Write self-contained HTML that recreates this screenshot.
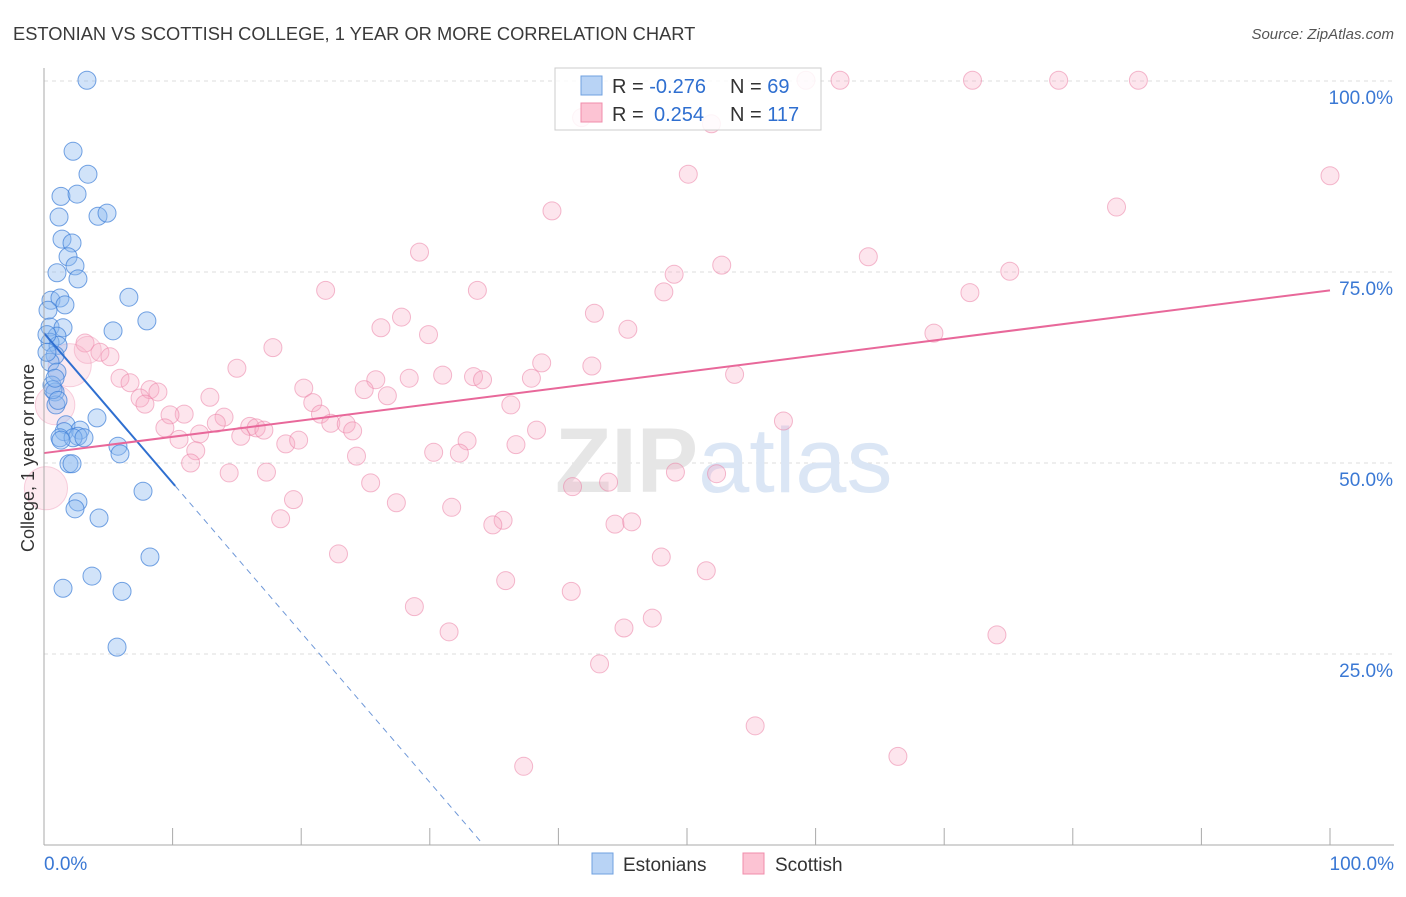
<!DOCTYPE html>
<html><head><meta charset="utf-8"><style>
body{margin:0;background:#fff;font-family:"Liberation Sans",sans-serif}
svg text{font-family:"Liberation Sans",sans-serif}
</style></head><body>
<svg id="chart" width="1406" height="892" viewBox="0 0 1406 892" xmlns="http://www.w3.org/2000/svg">
<text x="13" y="40" font-size="18.3" fill="#3a3a3a">ESTONIAN VS SCOTTISH COLLEGE, 1 YEAR OR MORE CORRELATION CHART</text>
<text x="1394" y="39" font-size="15" fill="#555" text-anchor="end" font-style="italic">Source: ZipAtlas.com</text>
<g id="grid"></g>
<text x="555" y="492" font-size="92" fill="#e6e6e6" font-family="Liberation Serif" font-weight="bold">ZIP<tspan fill="#dbe6f5" font-family="Liberation Sans" font-weight="normal">atlas</tspan></text>
<g id="pts"></g>
<g id="lines"></g>
<g id="axes"></g>
<text transform="translate(34,458) rotate(-90)" font-size="18" fill="#333" text-anchor="middle">College, 1 year or more</text>
<g>
<rect x="555" y="68" width="266" height="62" fill="rgba(255,255,255,0.85)" stroke="#ccc"/>
<rect x="581" y="76" width="21" height="19" fill="#b8d3f5" stroke="#6fa0e0"/>
<rect x="581" y="103" width="21" height="19" fill="#fcc3d3" stroke="#f08cab"/>
<text x="612" y="93" font-size="20" fill="#333">R = <tspan fill="#2f6fd0">-0.276</tspan><tspan x="730">N = </tspan><tspan fill="#2f6fd0">69</tspan></text>
<text x="612" y="121" font-size="20" fill="#333">R = <tspan fill="#2f6fd0" x="654">0.254</tspan><tspan x="730">N = </tspan><tspan fill="#2f6fd0">117</tspan></text>
</g>
<g>
<rect x="592" y="853" width="21" height="21" fill="#b8d3f5" stroke="#6fa0e0"/>
<text x="623" y="871" font-size="19" fill="#333">Estonians</text>
<rect x="743" y="853" width="21" height="21" fill="#fcc3d3" stroke="#f08cab"/>
<text x="775" y="871" font-size="19" fill="#333">Scottish</text>
</g>
</svg>
<script>
const yTicks=[0,25,50,75,100];
const yTickLabels=["","25.0%","50.0%","75.0%","100.0%"];
const xTickLabels=["0.0%","100.0%"];
const estX=[3.34,2.26,3.42,1.32,2.57,1.17,4.2,4.9,1.4,2.18,1.87,2.41,1.01,2.64,6.6,0.54,1.24,1.63,0.31,5.37,8.0,0.47,1.48,1.01,0.47,1.09,0.86,0.47,1.01,0.62,0.86,0.93,4.12,1.71,2.8,1.56,2.64,1.24,2.26,3.11,5.75,5.91,1.94,2.18,7.7,2.64,2.41,4.28,8.24,3.73,1.48,6.07,5.68,0.23,0.23,0.7,1.09,1.32,0.86];
const estY=[100.1,90.8,87.8,84.9,85.2,82.2,82.3,82.7,79.3,78.8,77.0,75.8,74.9,74.1,71.7,71.3,71.6,70.7,70.0,67.3,68.6,67.8,67.7,66.6,65.8,65.4,64.1,63.2,61.9,60.2,59.3,57.6,55.9,55.0,54.3,54.1,53.5,53.3,53.3,53.3,52.2,51.2,49.9,49.9,46.3,44.9,44.0,42.8,37.7,35.2,33.6,33.2,25.9,66.8,64.5,59.6,58.2,53.0,61.1];
const scoX=[59.25,61.9,72.2,78.9,85.1,41.8,51.9,100,50.1,83.4,39.5,29.2,64.1,49.0,52.7,75.1,21.9,33.7,48.2,72.0,42.8,27.8,26.2,29.9,45.4,69.2,17.8,3.19,4.35,5.13,15.0,38.7,42.6,53.7,5.91,6.69,28.4,31.0,33.4,34.1,37.9,25.8,24.9,20.2,8.24,8.86,12.9,26.7,7.47,7.85,20.9,36.3,10.9,9.8,14.0,21.5,13.4,16.0,16.5,17.1,22.3,23.5,24.0,9.4,12.1,15.3,10.5,18.8,19.8,32.9,57.5,38.3,36.7,30.3,32.3,24.3,11.8,11.4,14.4,17.3,49.1,52.3,25.4,41.1,43.9,19.4,27.4,31.7,18.4,35.7,34.9,44.4,45.7,22.9,48.0,51.5,35.9,41.0,28.8,47.3,31.5,45.1,74.1,43.2,55.3,66.4,37.3,2.0,0.86,0.15,3.4];
const scoY=[100.1,100.1,100.1,100.1,100.1,95.2,94.4,87.6,87.8,83.5,83.0,77.6,77.0,74.7,75.9,75.1,72.6,72.6,72.4,72.3,69.6,69.1,67.7,66.8,67.5,67.0,65.1,65.7,64.5,63.9,62.4,63.1,62.7,61.6,61.1,60.5,61.1,61.5,61.3,60.9,61.1,60.9,59.6,59.8,59.6,59.3,58.6,58.8,58.5,57.7,57.9,57.6,56.4,56.3,56.0,56.4,55.2,54.8,54.6,54.3,55.2,55.1,54.2,54.6,53.8,53.5,53.1,52.5,53.0,52.9,55.5,54.3,52.4,51.4,51.3,50.9,51.6,50.0,48.7,48.8,48.8,48.6,47.4,46.9,47.5,45.2,44.8,44.2,42.7,42.5,41.9,42.0,42.3,38.1,37.7,35.9,34.6,33.2,31.2,29.7,27.9,28.4,27.5,23.7,15.6,11.6,10.3,62.8,57.6,46.7,64.8];
const scoSize=scoX.map((v,i)=>i>=scoX.length-4?[2.4,2.2,2.4,1.5][i-(scoX.length-4)]:1);
const estLine=[67.0,-1.96]; // intercept, slope
const scoLine=[51.3,72.6];
const X=v=>44+v*12.86, Y=v=>845-v*7.64;
const NS="http://www.w3.org/2000/svg";
function mk(p,t,a){const e=document.createElementNS(NS,t);for(const k in a)e.setAttribute(k,a[k]);p.appendChild(e);return e;}
const grid=document.getElementById('grid'),axes=document.getElementById('axes'),pts=document.getElementById('pts'),lines=document.getElementById('lines');
yTicks.forEach((t,i)=>{if(t>0){const l=mk(grid,'line',{x1:44,x2:1394,y1:Y(t),y2:Y(t),stroke:'#ddd','stroke-dasharray':'4,4'});


const tx=mk(axes,'text',{x:1393,y:Y(t)+23,'font-size':19,fill:'#3a78d4','text-anchor':'end'});tx.textContent=yTickLabels[i];

}});
mk(axes,'line',{x1:44,x2:44,y1:68,y2:845,stroke:'#aaa'});
mk(axes,'line',{x1:44,x2:1394,y1:845,y2:845,stroke:'#aaa'});
for(let i=1;i<=10;i++){mk(axes,'line',{x1:X(i*10),x2:X(i*10),y1:828,y2:845,stroke:'#aaa'});}
[[0,'start',44],[100,'end',1394]].forEach((d,i)=>{const t=mk(axes,'text',{x:d[2],y:870,'font-size':19,fill:'#3a78d4','text-anchor':d[1]});t.textContent=xTickLabels[i];

});
scoX.forEach((x,i)=>{const big=scoSize[i]>1;const c=mk(pts,'circle',{cx:X(x),cy:Y(scoY[i]),r:9*scoSize[i],fill:big?'rgba(248,170,195,0.25)':'rgba(248,170,195,0.3)',stroke:big?'rgba(235,130,165,0.35)':'rgba(235,130,165,0.55)','stroke-width':1});

});
estX.forEach((x,i)=>{const c=mk(pts,'circle',{cx:X(x),cy:Y(estY[i]),r:9,fill:'rgba(140,185,240,0.4)',stroke:'rgba(60,125,215,0.7)','stroke-width':1});

});
const ey=x=>estLine[0]+estLine[1]*x, x0=-estLine[0]/estLine[1];
const l1=mk(lines,'line',{x1:X(0),y1:Y(ey(0)),x2:X(10.2),y2:Y(ey(10.2)),stroke:'#2f6fd0','stroke-width':2});


const l2=mk(lines,'line',{x1:X(10.2),y1:Y(ey(10.2)),x2:X(x0),y2:Y(0),stroke:'#6f98d8','stroke-width':1,'stroke-dasharray':'6,5'});


const l3=mk(lines,'line',{x1:X(0),y1:Y(scoLine[0]),x2:X(100),y2:Y(scoLine[1]),stroke:'#e8689a','stroke-width':2});


</script>
</body></html>
